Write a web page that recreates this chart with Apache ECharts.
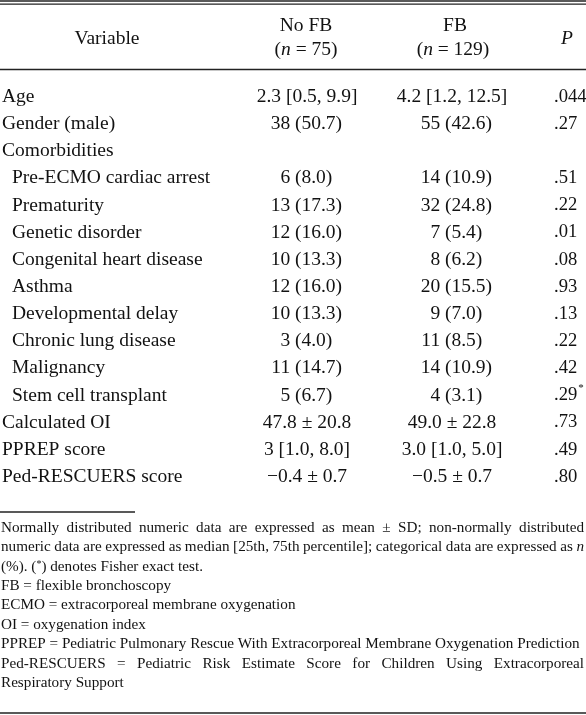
<!DOCTYPE html>
<html><head><meta charset="utf-8">
<script src="https://cdn.jsdelivr.net/npm/echarts@6/dist/echarts.min.js"></script>
<style>html,body{margin:0;padding:0;background:#fff}#c{width:586px;height:715px}</style>
</head><body><div id="c"></div>
<script>
// ---------- data ----------
const variables = ['Age','Gender (male)','Comorbidities','Pre-ECMO cardiac arrest','Prematurity','Genetic disorder','Congenital heart disease','Asthma','Developmental delay','Chronic lung disease','Malignancy','Stem cell transplant','Calculated OI','PPREP score','Ped-RESCUERS score'];
const levels = [0,0,0,1,1,1,1,1,1,1,1,1,0,0,0];
const noFB = ['2.3 [0.5, 9.9]','38 (50.7)','','6 (8.0)','13 (17.3)','12 (16.0)','10 (13.3)','12 (16.0)','10 (13.3)','3 (4.0)','11 (14.7)','5 (6.7)','47.8 ± 20.8','3 [1.0, 8.0]','\u22120.4 ± 0.7'];
const fbValues = ['4.2 [1.2, 12.5]','55 (42.6)','','14 (10.9)','32 (24.8)','7 (5.4)','8 (6.2)','20 (15.5)','9 (7.0)','11 (8.5)','14 (10.9)','4 (3.1)','49.0 ± 22.8','3.0 [1.0, 5.0]','\u22120.5 ± 0.7'];
const pValues = ['.044','.27','','.51','.22','.01','.08','.93','.13','.22','.42','.29*','.73','.49','.80'];
const headers = ['Variable','No FB','FB','P'];
const groupSizes = [null, 75, 129, null];
const footParagraph1 = [
  'Normally distributed numeric data are expressed as mean ± SD; non-normally distributed',
  'numeric data are expressed as median [25th, 75th percentile]; categorical data are expressed as _n_',
  '(%). (*) denotes Fisher exact test.'
];
const abbreviations = [
  'FB = flexible bronchoscopy',
  'ECMO = extracorporeal membrane oxygenation',
  'OI = oxygenation index',
  'PPREP = Pediatric Pulmonary Rescue With Extracorporeal Membrane Oxygenation Prediction'
];
const footParagraph2 = [
  'Ped-RESCUERS = Pediatric Risk Estimate Score for Children Using Extracorporeal',
  'Respiratory Support'
];

// ---------- layout / style ----------
const FAM = '"Liberation Serif","Times New Roman",serif';
const FS = 19.5, PFS = 18.6, FFS = 15.2;
const INK = '#121212';
const COL = { varX: 2, indent: 10, noFBAnchor: 295, fbAnchor: 445, noFBCenter: 307, fbCenter: 452, pLeft: 554, pHead: 567 };
const measureCtx = document.createElement('canvas').getContext('2d');
function measure(t, size, italic){ measureCtx.font = (italic?'italic ':'') + size + 'px ' + FAM; return measureCtx.measureText(t).width; }

function txt(text, x, y, align, extra){
  return Object.assign({ type:'text', x:x, y:y, silent:true,
    style: Object.assign({ text:text, fill:INK, fontSize:FS, fontFamily:FAM, align:align, verticalAlign:'middle' }, extra||{}) });
}
function valueCell(children, v, anchor, center, y){
  if (!v) return;
  const m = v.match(/^(\S+) (\(.*\))$/);
  if (m){
    children.push(txt(m[1], anchor - measure(' ', FS), y, 'right'));
    children.push(txt(m[2], anchor, y, 'left'));
  } else {
    children.push(txt(v, center, y, 'center'));
  }
}

const chart = echarts.init(document.getElementById('c'), null, {renderer:'canvas'});

// ---------- graphic: rules, header, footnotes ----------
const graphics = [];
function hline(x1, x2, y, w){ graphics.push({type:'line', silent:true, shape:{x1:x1,y1:y,x2:x2,y2:y}, style:{stroke:'#222', lineWidth:w}}); }
hline(0, 586, 1, 1.3);
hline(0, 586, 4.2, 1.3);
hline(0, 586, 69.5, 1.5);
hline(0, 135, 512, 1.3);
hline(0, 586, 713, 1.5);

function gtext(text, x, y, align, extra){
  graphics.push({type:'text', silent:true, x:x, y:y,
    style:Object.assign({text:text, fill:INK, fontSize:FS, fontFamily:FAM, align:align, verticalAlign:'middle'}, extra||{})});
}
const italicRich = {i:{fontStyle:'italic', fontSize:FS, fontFamily:FAM, fill:INK}};
gtext(headers[0], 107, 39, 'center');
gtext(headers[1], 306, 25.5, 'center');
gtext('({i|n} = ' + groupSizes[1] + ')', 306, 50, 'center', {rich:italicRich});
gtext(headers[2], 455, 25.5, 'center');
gtext('({i|n} = ' + groupSizes[2] + ')', 453, 50, 'center', {rich:italicRich});
gtext(headers[3], COL.pHead, 39, 'center', {fontStyle:'italic'});

const FL = 19.4, F0 = 527.8, LEFT = 1, RIGHT = 584;
function justified(line, y){
  const words = line.split(' ').map(w => {
    const it = /^_.*_$/.test(w); const t = it ? w.slice(1,-1) : w;
    return {t:t, it:it, w:measure(t, FFS, it)};
  });
  const total = words.reduce((s,w)=>s+w.w, 0);
  const gap = (RIGHT - LEFT - total) / (words.length - 1);
  let x = LEFT;
  words.forEach(w => {
    gtext(w.t, x, y, 'left', {fontSize:FFS, fontStyle: w.it ? 'italic' : 'normal'});
    x += w.w + gap;
  });
}
let li = 0;
justified(footParagraph1[0], F0 + FL*li++);
justified(footParagraph1[1], F0 + FL*li++);
gtext(footParagraph1[2].replace('(*)', '({s|*})'), LEFT, F0 + FL*li++, 'left',
  {fontSize:FFS, rich:{s:{fontSize:10, fontFamily:FAM, fill:INK, verticalAlign:'top', padding:[0,0,5,0]}}});
abbreviations.forEach(a => gtext(a, LEFT, F0 + FL*li++, 'left', {fontSize:FFS}));
justified(footParagraph2[0], F0 + FL*li++);
gtext(footParagraph2[1], LEFT, F0 + FL*li++, 'left', {fontSize:FFS});

// ---------- table body via custom series on a category axis ----------
chart.setOption({
  animation:false,
  grid:{left:0, right:0, top:83.3, bottom:224.6},
  xAxis:{type:'value', min:0, max:1, show:false},
  yAxis:{type:'category', data:variables, inverse:true, show:false},
  graphic:{elements:graphics},
  series:[{
    type:'custom',
    silent:true,
    data: variables.map((v,i)=>[0,i]),
    renderItem:function(params, api){
      const i = api.value(1);
      const y = api.coord([0, i])[1];
      const ch = [];
      ch.push(txt(variables[i], COL.varX + (levels[i] ? COL.indent : 0), y, 'left'));
      valueCell(ch, noFB[i], COL.noFBAnchor, COL.noFBCenter, y);
      valueCell(ch, fbValues[i], COL.fbAnchor, COL.fbCenter, y);
      const p = pValues[i];
      if (p){
        if (p.endsWith('*')){
          const base = p.slice(0,-1);
          ch.push(txt(base, COL.pLeft, y, 'left', {fontSize:PFS}));
          ch.push(txt('*', COL.pLeft + measure(base, PFS) + 1, y - 7, 'left', {fontSize:11}));
        } else {
          ch.push(txt(p, COL.pLeft, y, 'left', {fontSize:PFS}));
        }
      }
      return {type:'group', children:ch};
    }
  }]
});
</script></body></html>
